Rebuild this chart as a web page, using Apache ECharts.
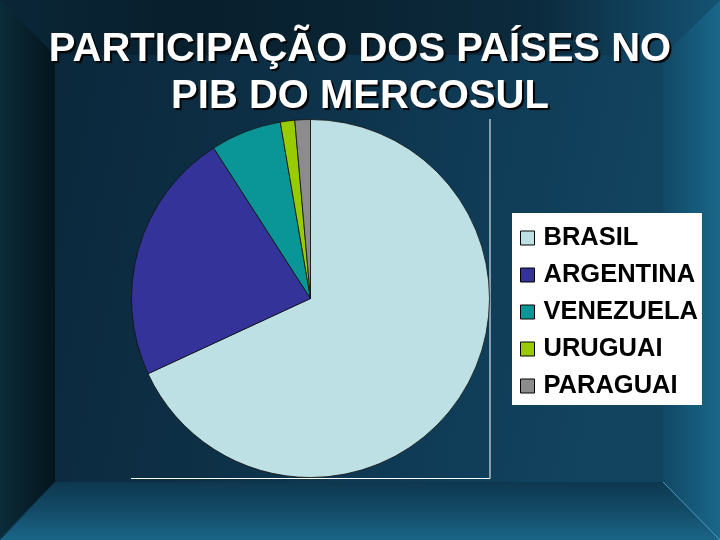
<!DOCTYPE html>
<html>
<head>
<meta charset="utf-8">
<script src="https://cdn.jsdelivr.net/npm/echarts@6/dist/echarts.min.js"></script>
<style>html,body{margin:0;padding:0;background:#0c2d42;}#c{width:720px;height:540px;}</style>
</head>
<body>
<div id="c"></div>
<script>
const titleText = 'PARTICIPAÇÃO DOS PAÍSES NO\nPIB DO MERCOSUL';
const categories = ['BRASIL', 'ARGENTINA', 'VENEZUELA', 'URUGUAI', 'PARAGUAI'];
const values = [68.1, 22.8, 6.4, 1.3, 1.4];
const colors = ['#BDE0E4', '#333399', '#0A9696', '#99CC00', '#8C8C8C'];

const chart = echarts.init(document.getElementById('c'), null, {renderer: 'canvas'});

function lg(x0, y0, x1, y1, stops) {
  return new echarts.graphic.LinearGradient(x0, y0, x1, y1, stops.map((c, i) => ({offset: i / (stops.length - 1), color: c})));
}

const bg = [
  {type: 'rect', shape: {x: 0, y: 0, width: 720, height: 540}, style: {fill: '#0c2d42'}, z: -10},
  // back wall
  {type: 'rect', shape: {x: 55, y: 55, width: 608, height: 427}, style: {fill: lg(0, 0, 1, 0.3, ['#0b283c', '#0d2f45', '#0f3a55', '#124460'])}, z: -9},
  // ceiling
  {type: 'polygon', shape: {points: [[0, 0], [720, 0], [663, 55], [55, 55]]}, style: {fill: lg(0, 0, 1, 0, ['#0a2636', '#081f2d', '#0a2433', '#0c2b3e', '#145273'])}, z: -9},
  // left wall
  {type: 'polygon', shape: {points: [[0, 0], [55, 55], [55, 482], [0, 537]]}, style: {fill: lg(0, 0, 1, 0, ['#0b2c3b', '#071f2a', '#04151d'])}, z: -9},
  // right wall
  {type: 'polygon', shape: {points: [[720, 0], [720, 540], [663, 482], [663, 55]]}, style: {fill: lg(0, 0, 1, 0, ['#124866', '#155877', '#1a6789'])}, z: -9},
  // floor
  {type: 'polygon', shape: {points: [[0, 540], [720, 540], [663, 482], [55, 482]]}, style: {fill: lg(0, 0, 0, 1, ['#0e374f', '#134c68', '#1a6587'])}, z: -9},
  {type: 'line', shape: {x1: 663, y1: 482, x2: 720, y2: 540}, style: {stroke: '#4f9fc0', lineWidth: 1}, z: -8},
  // plot-area edge lines
  {type: 'line', shape: {x1: 490, y1: 119, x2: 490, y2: 478.5}, style: {stroke: '#ffffff', lineWidth: 1}, z: 1},
  {type: 'line', shape: {x1: 131, y1: 478.5, x2: 490, y2: 478.5}, style: {stroke: '#ffffff', lineWidth: 1}, z: 1}
];

chart.setOption({
  animation: false,
  color: colors,
  title: {
    text: titleText,
    left: 'center',
    top: 21,
    textStyle: {
      color: '#ffffff',
      fontFamily: 'Liberation Sans, Arial, sans-serif',
      fontWeight: 'bold',
      fontSize: 40,
      lineHeight: 47,
      textShadowColor: '#000000',
      textShadowOffsetX: 2,
      textShadowOffsetY: 2,
      textShadowBlur: 1
    }
  },
  legend: {
    orient: 'vertical',
    left: 512,
    top: 213,
    backgroundColor: '#ffffff',
    padding: [12, 4, 6, 8],
    itemWidth: 14,
    itemHeight: 14,
    itemGap: 11,
    icon: 'rect',
    itemStyle: {borderColor: '#000000', borderWidth: 1},
    selectedMode: false,
    textStyle: {
      color: '#000000',
      fontFamily: 'Liberation Sans, Arial, sans-serif',
      fontWeight: 'bold',
      fontSize: 25.5,
      lineHeight: 25,
      padding: [0, 0, 0, 4]
    },
    data: categories
  },
  graphic: {elements: bg},
  series: [{
    type: 'pie',
    center: [310.5, 298.5],
    radius: [0, 179],
    startAngle: 90,
    clockwise: true,
    label: {show: false},
    labelLine: {show: false},
    emphasis: {disabled: true},
    itemStyle: {borderColor: '#111111', borderWidth: 0.8},
    data: categories.map((n, i) => ({name: n, value: values[i]}))
  }]
});
</script>
</body>
</html>
